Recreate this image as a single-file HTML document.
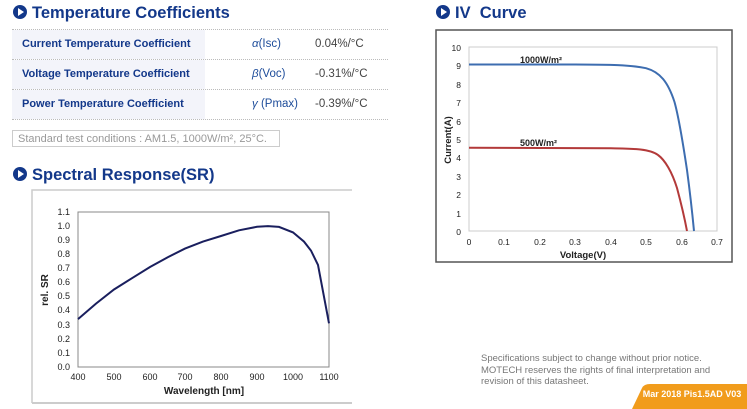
<!DOCTYPE html>
<html><head><meta charset="utf-8"><style>
body{margin:0;width:747px;height:409px;background:#fff;position:relative;overflow:hidden;font-family:"Liberation Sans",Arial,sans-serif}
.h{position:absolute;color:#13388a;font-weight:bold;font-size:16.5px;white-space:nowrap}
.h i{display:inline-block;width:14px;height:14px;border-radius:50%;background:#13388a;vertical-align:-1px;margin-right:5px;position:relative}
.h i:after{content:"";position:absolute;left:5px;top:3px;border-left:6px solid #fff;border-top:4px solid transparent;border-bottom:4px solid transparent}
.row{position:absolute;left:12px;width:376px;height:29px;border-bottom:1px dotted #bbb}
.row .lb{position:absolute;left:0;top:0;width:193px;height:29px;background:#f3f4fa;color:#13388a;font-weight:bold;font-size:11px;line-height:29px;padding-left:10px;box-sizing:border-box;white-space:nowrap}
.row .sy{position:absolute;left:240px;top:0;line-height:29px;font-size:11.5px;color:#1d4c9a;white-space:nowrap}
.row .v{position:absolute;left:303px;top:0;line-height:29px;font-size:11.5px;color:#444;white-space:nowrap}
.note{position:absolute;color:#777;font-size:9.5px;line-height:11.5px;white-space:nowrap}
</style></head><body>
<div class="h" style="left:13px;top:4px"><i></i>Temperature Coefficients</div>
<div style="position:absolute;left:12px;top:29px;width:376px;border-top:1px dotted #bbb"></div>
<div class="row" style="top:30px"><div class="lb">Current Temperature Coefficient</div><div class="sy"><i>α</i>(Isc)</div><div class="v">0.04%/°C</div></div>
<div class="row" style="top:60px"><div class="lb">Voltage Temperature Coefficient</div><div class="sy"><i>β</i>(Voc)</div><div class="v">-0.31%/°C</div></div>
<div class="row" style="top:90px"><div class="lb">Power Temperature Coefficient</div><div class="sy"><i>γ</i> (Pmax)</div><div class="v">-0.39%/°C</div></div>
<div style="position:absolute;left:12px;top:130px;width:268px;height:17px;border:1px solid #ccc;color:#999;font-size:11px;line-height:16px;padding-left:5px;box-sizing:border-box;white-space:nowrap">Standard test conditions : AM1.5, 1000W/m², 25°C.</div>

<div class="h" style="left:13px;top:166px"><i></i>Spectral Response(SR)</div>
<div class="h" style="left:436px;top:4px"><i></i>IV&nbsp; Curve</div>

<svg width="747" height="409" style="position:absolute;left:0;top:0" font-family="Liberation Sans,Arial,sans-serif">
<path d="M32 403V190H352" fill="none" stroke="#ccc" stroke-width="1.5"/>
<line x1="32" y1="403" x2="352" y2="403" stroke="#ccc" stroke-width="2"/>
<rect x="78" y="212" width="251" height="155" fill="none" stroke="#888" stroke-width="1"/>
<g font-size="9" fill="#222" text-anchor="end">
<text x="70" y="215">1.1</text><text x="70" y="229">1.0</text><text x="70" y="243">0.9</text><text x="70" y="257">0.8</text><text x="70" y="271">0.7</text><text x="70" y="285">0.6</text><text x="70" y="299">0.5</text><text x="70" y="313">0.4</text><text x="70" y="328">0.3</text><text x="70" y="342">0.2</text><text x="70" y="356">0.1</text><text x="70" y="370">0.0</text>
</g>
<g font-size="9" fill="#222" text-anchor="middle">
<text x="78" y="380">400</text><text x="114" y="380">500</text><text x="150" y="380">600</text><text x="185" y="380">700</text><text x="221" y="380">800</text><text x="257" y="380">900</text><text x="293" y="380">1000</text><text x="329" y="380">1100</text>
</g>
<text x="204" y="394" font-size="10" font-weight="bold" text-anchor="middle" fill="#222">Wavelength  [nm]</text>
<text transform="translate(48,290) rotate(-90)" font-size="10" font-weight="bold" text-anchor="middle" fill="#222">rel. SR</text>
<polyline fill="none" stroke="#1a1f5e" stroke-width="2" points="78,319.1 96,303.6 114,289.5 132,278.2 150,267 168,257.1 185,248.6 203,241.6 221,236 239,230.3 257,226.8 268,226.1 279,226.9 293,232.4 304,241.6 311,250.6 318,265 329,323.3"/>
<rect x="436" y="30" width="296" height="232" fill="none" stroke="#555" stroke-width="1.5"/>
<rect x="469" y="47" width="248" height="184" fill="none" stroke="#ccc" stroke-width="1"/>
<g font-size="8.5" fill="#222" text-anchor="end">
<text x="461" y="51">10</text><text x="461" y="69">9</text><text x="461" y="88">8</text><text x="461" y="106">7</text><text x="461" y="125">6</text><text x="461" y="143">5</text><text x="461" y="161">4</text><text x="461" y="180">3</text><text x="461" y="198">2</text><text x="461" y="217">1</text><text x="461" y="235">0</text>
</g>
<g font-size="8.5" fill="#222" text-anchor="middle">
<text x="469" y="245">0</text><text x="504" y="245">0.1</text><text x="540" y="245">0.2</text><text x="575" y="245">0.3</text><text x="611" y="245">0.4</text><text x="646" y="245">0.5</text><text x="682" y="245">0.6</text><text x="717" y="245">0.7</text>
</g>
<text x="583" y="258" font-size="9.5" font-weight="bold" text-anchor="middle" fill="#222">Voltage(V)</text>
<text transform="translate(451,140) rotate(-90)" font-size="9.5" font-weight="bold" text-anchor="middle" fill="#222">Current(A)</text>
<text x="520" y="63" font-size="9" font-weight="bold" fill="#222">1000W/m²</text>
<text x="520" y="146" font-size="9" font-weight="bold" fill="#222">500W/m²</text>
<path fill="none" stroke="#3d6db0" stroke-width="2" d="M469 64.5L575 64.5C610 64.6 630 64.8 646 68.2C660 72 668 82 674.5 102C679 118 684 150 687 170C689 185 692 210 694 231"/>
<path fill="none" stroke="#b33a3a" stroke-width="2" d="M469 147.8L611 148.2C635 148.6 650 149 658 155C665 160 672 172 677 188C681 203 684 215 687 231"/>
<path d="M632 409L642 388Q644 384 650 384H747V409Z" fill="#f19c1c"/>
<text x="692" y="397" font-size="9" font-weight="bold" fill="#fff" text-anchor="middle">Mar 2018 Pis1.5AD V03</text>
</svg>
<div class="note" style="left:481px;top:353px">Specifications subject to change without prior notice.<br>MOTECH reserves the rights of final interpretation and<br>revision of this datasheet.</div>
</body></html>
